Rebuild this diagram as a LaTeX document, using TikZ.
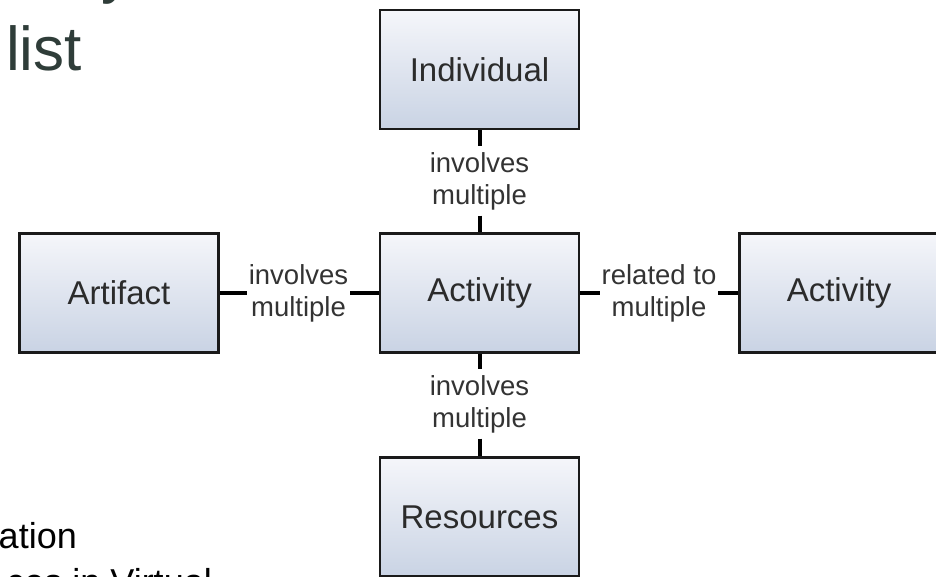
\documentclass[tikz,border=0pt]{standalone}
\usepackage{fontspec}
\setmainfont{Liberation Sans}
\definecolor{boxtop}{HTML}{F5F6FA}
\definecolor{boxbot}{HTML}{C9D3E4}
\definecolor{boxline}{HTML}{1A1A1A}
\definecolor{boxtext}{HTML}{2B2B2B}
\definecolor{reltext}{HTML}{333333}
\definecolor{titlecol}{HTML}{2F3D39}
\begin{document}
\begin{tikzpicture}[x=1pt,y=1pt]
\useasboundingbox (0,0) rectangle (936,576);
\clip (0,0) rectangle (936,576);
\tikzset{
  box/.style={draw=boxline, line width=2.8pt, top color=boxtop, bottom color=boxbot,
    minimum width=199pt, minimum height=119pt, inner sep=0pt,
    font=\fontsize{33}{38}\selectfont, text=boxtext},
  rel/.style={font=\fontsize{27.5}{32}\selectfont, text=reltext, align=center,
    inner xsep=1.8pt, inner ysep=5.7pt},
  link/.style={line width=4pt, draw=black},
  title/.style={font=\fontsize{62}{70}\selectfont, text=titlecol, inner sep=0pt, anchor=base west},
  body/.style={font=\fontsize{36}{42}\selectfont, text=black, inner sep=0pt, anchor=base east}
}
% boxes
\node[box] (ind)  at (479.5,506.5) {Individual};
\node[box] (act)  at (479.5,283)   {Activity};
\node[box] (art)  at (119,283)     {Artifact};
\node[box] (act2) at (839,283)     {Activity};
\node[box] (res)  at (479.5,59)    {Resources};
% labels
\node[rel] (l1) at (479.5,395) {involves\\multiple};
\node[rel] (l2) at (479.5,172) {involves\\multiple};
\node[rel] (l3) at (298.5,283) {involves\\multiple};
\node[rel] (l4) at (659,283)   {related to\\multiple};
% connectors
\draw[link] (ind) -- (l1);
\draw[link] (l1) -- (act);
\draw[link] (act) -- (l2);
\draw[link] (l2) -- (res);
\draw[link] (art) -- (l3);
\draw[link] (l3) -- (act);
\draw[link] (act) -- (l4);
\draw[link] (l4) -- (act2);
% slide text fragments
\node[title] (ty) at (101,584) {y};
\node[title] (tl) at (6,505) {list};
\node[body] (b1) at (77,28) {ation};
\node[body] (b2) at (212,-18) {ces in Virtual};
\end{tikzpicture}
\end{document}
